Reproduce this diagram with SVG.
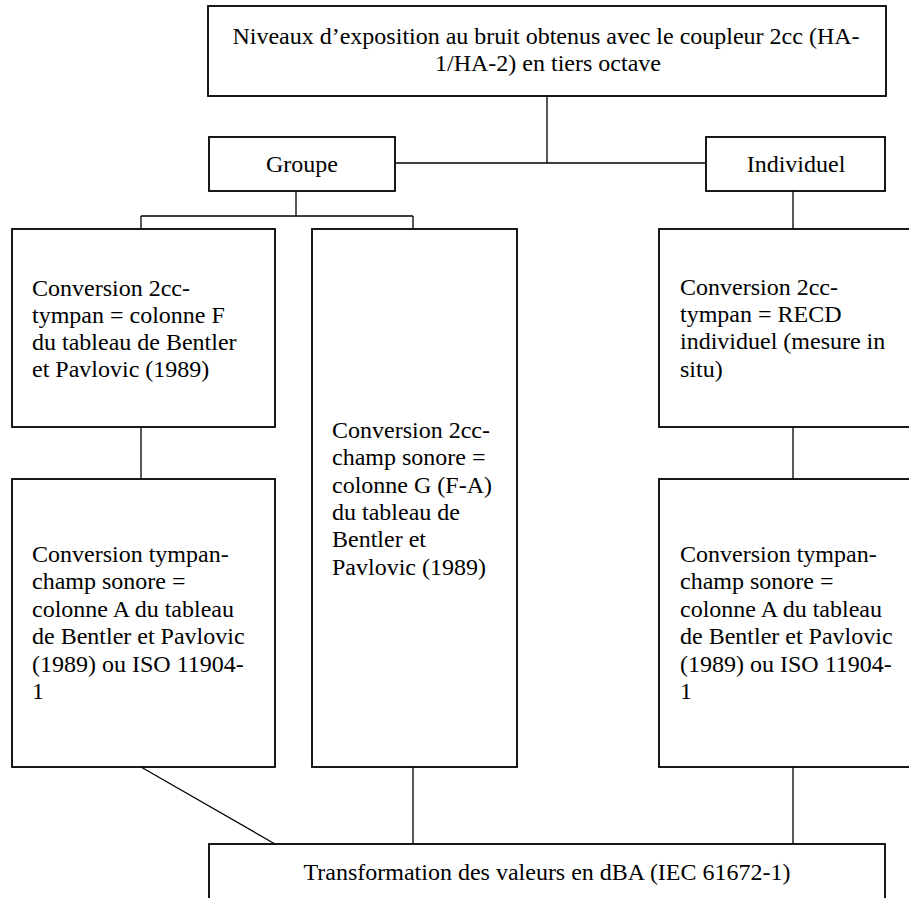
<svg xmlns="http://www.w3.org/2000/svg" width="909" height="898" viewBox="0 0 909 898">
<style>
.box{fill:#fff;stroke:#000;stroke-width:1.8}
.c{fill:none;stroke:#000;stroke-width:1.3}
text{font-family:"Liberation Serif","Times New Roman",serif;font-size:24px;fill:#000}
.m{text-anchor:middle}
</style>
<rect width="909" height="898" fill="#fff"/>
<g id="connectors">
<line class="c" x1="547" y1="96" x2="547" y2="163"/>
<line class="c" x1="395" y1="163" x2="706" y2="163"/>
<line class="c" x1="296" y1="191" x2="296" y2="216"/>
<line class="c" x1="141" y1="216" x2="413" y2="216"/>
<line class="c" x1="141" y1="216" x2="141" y2="229"/>
<line class="c" x1="413" y1="216" x2="413" y2="229"/>
<line class="c" x1="793" y1="191" x2="793" y2="229"/>
<line class="c" x1="141" y1="427" x2="141" y2="479"/>
<line class="c" x1="793" y1="427" x2="793" y2="479"/>
<line class="c" x1="141" y1="767" x2="275" y2="844"/>
<line class="c" x1="413" y1="767" x2="413" y2="844"/>
<line class="c" x1="793" y1="767" x2="793" y2="844"/>
</g>
<g id="top">
<rect class="box" x="208" y="6" width="678" height="90"/>
<text class="m" x="546" y="44">Niveaux d’exposition au bruit obtenus avec le coupleur 2cc (HA-</text>
<text class="m" x="548" y="71">1/HA-2) en tiers octave</text>
</g>
<g id="groupe">
<rect class="box" x="209" y="137" width="186" height="54"/>
<text class="m" x="302" y="172">Groupe</text>
</g>
<g id="individuel">
<rect class="box" x="706" y="137" width="179" height="54"/>
<text class="m" x="796" y="172">Individuel</text>
</g>
<g id="box1">
<rect class="box" x="12" y="229" width="263" height="198"/>
<text x="32" y="296">Conversion 2cc-</text>
<text x="32" y="323">tympan = colonne F</text>
<text x="32" y="350">du tableau de Bentler</text>
<text x="32" y="377">et Pavlovic (1989)</text>
</g>
<g id="box2">
<rect class="box" x="312" y="229" width="205" height="538"/>
<text x="332" y="438">Conversion 2cc-</text>
<text x="332" y="465">champ sonore =</text>
<text x="332" y="493">colonne G (F-A)</text>
<text x="332" y="520">du tableau de</text>
<text x="332" y="547">Bentler et</text>
<text x="332" y="575">Pavlovic (1989)</text>
</g>
<g id="box3">
<rect class="box" x="659" y="229" width="270" height="198"/>
<text x="680" y="295">Conversion 2cc-</text>
<text x="680" y="322">tympan = RECD</text>
<text x="680" y="349">individuel (mesure in</text>
<text x="680" y="377">situ)</text>
</g>
<g id="box4">
<rect class="box" x="12" y="479" width="263" height="288"/>
<text x="32" y="562">Conversion tympan-</text>
<text x="32" y="589">champ sonore =</text>
<text x="32" y="617">colonne A du tableau</text>
<text x="32" y="644">de Bentler et Pavlovic</text>
<text x="32" y="672">(1989) ou ISO 11904-</text>
<text x="32" y="699">1</text>
</g>
<g id="box5">
<rect class="box" x="659" y="479" width="270" height="288"/>
<text x="680" y="562">Conversion tympan-</text>
<text x="680" y="589">champ sonore =</text>
<text x="680" y="617">colonne A du tableau</text>
<text x="680" y="644">de Bentler et Pavlovic</text>
<text x="680" y="672">(1989) ou ISO 11904-</text>
<text x="680" y="699">1</text>
</g>
<g id="bottom">
<rect class="box" x="209" y="844" width="676" height="70"/>
<text class="m" x="547" y="880">Transformation des valeurs en dBA (IEC 61672-1)</text>
</g>
</svg>
